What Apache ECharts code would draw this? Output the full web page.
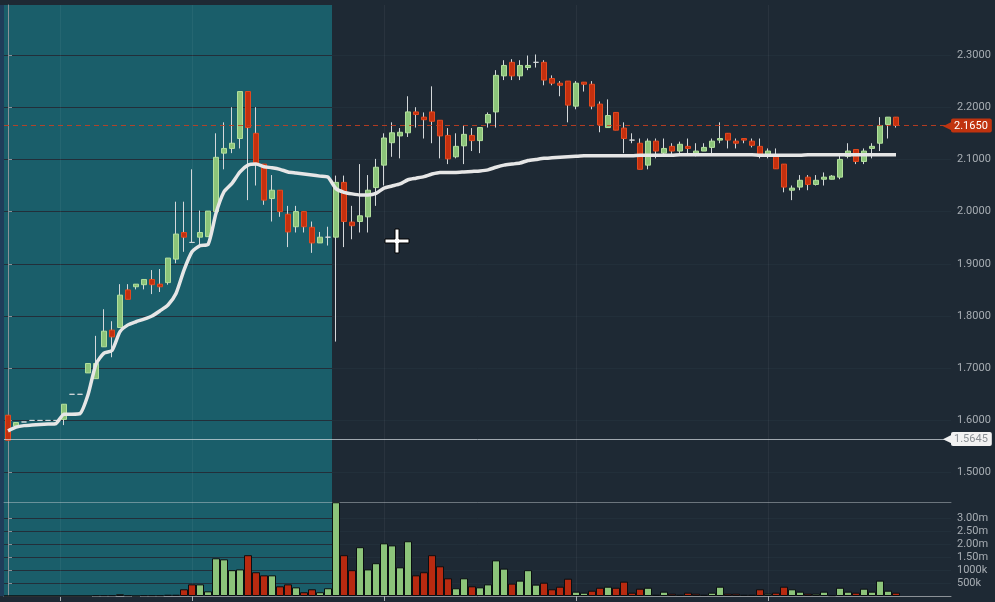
<!DOCTYPE html>
<html>
<head>
<meta charset="utf-8">
<script src="https://cdn.jsdelivr.net/npm/echarts@6/dist/echarts.min.js"></script>
<style>
  html, body { margin: 0; padding: 0; background: #1e2934; }
  #chart { width: 995px; height: 602px; }
</style>
</head>
<body>
<div id="chart"></div>
<script>
// candles (index = bar number)
var openP = [1.610,1.589,1.597,1.600,1.600,1.600,1.600,1.602,1.650,1.650,
  1.691,1.680,1.741,1.773,1.778,1.850,1.856,1.860,1.870,1.861,
  1.864,1.909,1.960,1.941,1.951,1.952,2.000,2.112,2.121,2.140,
  2.230,2.150,2.091,2.025,2.041,1.995,1.971,2.000,1.970,1.940,
  1.951,1.951,2.056,1.980,1.981,1.990,2.046,2.089,2.132,2.145,
  2.151,2.191,2.181,2.191,2.175,2.146,2.105,2.126,2.146,2.136,
  2.170,2.191,2.260,2.286,2.260,2.276,2.286,2.286,2.255,2.246,
  2.250,2.202,2.248,2.244,2.206,2.161,2.190,2.160,2.137,2.131,
  2.089,2.135,2.112,2.125,2.116,2.125,2.112,2.116,2.123,2.137,
  2.150,2.135,2.140,2.135,2.125,2.106,2.108,2.091,2.041,2.047,
  2.066,2.052,2.062,2.062,2.066,2.106,2.119,2.096,2.121,2.131,
  2.167,2.181];
var closeP = [1.562,1.596,1.597,1.600,1.600,1.600,1.600,1.631,1.650,1.650,
  1.709,1.709,1.771,1.760,1.840,1.832,1.861,1.870,1.860,1.856,
  1.911,1.957,1.951,1.941,1.960,2.001,2.104,2.121,2.131,2.230,
  2.161,2.093,2.022,2.041,2.000,1.961,2.000,1.971,1.940,1.951,
  1.951,2.056,1.981,1.973,1.992,2.041,2.085,2.141,2.151,2.152,
  2.191,2.186,2.176,2.173,2.145,2.101,2.125,2.148,2.136,2.161,
  2.186,2.261,2.280,2.260,2.280,2.280,2.286,2.252,2.246,2.242,
  2.204,2.246,2.244,2.202,2.166,2.184,2.156,2.140,2.137,2.081,
  2.135,2.116,2.121,2.116,2.129,2.121,2.116,2.123,2.135,2.140,
  2.137,2.131,2.137,2.127,2.106,2.116,2.082,2.047,2.045,2.060,
  2.052,2.060,2.066,2.068,2.100,2.116,2.096,2.116,2.125,2.165,
  2.181,2.165];
var lowP = [1.562,1.589,1.597,1.600,1.600,1.600,1.600,1.591,1.650,1.650,
  1.691,1.680,1.741,1.721,1.778,1.832,1.851,1.851,1.842,1.846,
  1.860,1.901,1.923,1.941,1.935,1.952,2.000,2.081,2.112,2.121,
  2.022,2.050,2.013,1.981,1.990,1.932,1.960,1.960,1.921,1.940,
  1.935,1.751,1.932,1.947,1.960,1.960,2.011,2.050,2.105,2.102,
  2.143,2.161,2.140,2.131,2.102,2.091,2.102,2.091,2.116,2.112,
  2.161,2.161,2.252,2.252,2.252,2.271,2.276,2.242,2.242,2.221,
  2.171,2.196,2.230,2.196,2.152,2.161,2.156,2.112,2.131,2.081,
  2.081,2.102,2.108,2.106,2.112,2.112,2.106,2.116,2.112,2.131,
  2.121,2.121,2.131,2.123,2.102,2.102,2.082,2.037,2.022,2.041,
  2.041,2.050,2.050,2.062,2.062,2.102,2.091,2.091,2.102,2.116,
  2.140,2.161];
var highP = [1.610,1.596,1.597,1.600,1.600,1.600,1.600,1.631,1.650,1.650,
  1.709,1.762,1.813,1.790,1.861,1.861,1.861,1.870,1.888,1.890,
  1.911,2.019,2.019,2.081,2.002,2.001,2.150,2.171,2.200,2.230,
  2.230,2.200,2.091,2.070,2.041,2.011,2.011,2.000,1.981,1.961,
  1.971,2.069,2.069,2.011,2.091,2.070,2.101,2.150,2.171,2.160,
  2.221,2.200,2.190,2.240,2.175,2.160,2.150,2.165,2.160,2.161,
  2.190,2.271,2.290,2.292,2.290,2.299,2.301,2.290,2.261,2.250,
  2.250,2.250,2.248,2.250,2.211,2.215,2.190,2.171,2.150,2.140,
  2.140,2.140,2.140,2.131,2.134,2.140,2.131,2.131,2.140,2.171,
  2.150,2.140,2.140,2.140,2.140,2.121,2.121,2.091,2.050,2.070,
  2.070,2.070,2.075,2.070,2.108,2.131,2.119,2.121,2.131,2.181,
  2.181,2.181];

// white average line
var avgLine = [1.580,1.587,1.590,1.591,1.592,1.593,1.594,1.612,1.612,1.613,
  1.649,1.708,1.729,1.734,1.770,1.783,1.789,1.794,1.800,1.810,
  1.821,1.843,1.888,1.923,1.935,1.937,1.997,2.038,2.054,2.076,
  2.089,2.091,2.086,2.084,2.081,2.076,2.074,2.072,2.070,2.068,
  2.066,2.044,2.037,2.034,2.032,2.032,2.035,2.045,2.049,2.053,
  2.061,2.064,2.067,2.072,2.075,2.075,2.075,2.076,2.077,2.078,
  2.080,2.085,2.089,2.091,2.093,2.098,2.100,2.102,2.103,2.104,
  2.105,2.106,2.107,2.107,2.107,2.107,2.107,2.107,2.107,2.108,
  2.108,2.108,2.108,2.108,2.109,2.109,2.109,2.109,2.109,2.109,
  2.109,2.109,2.109,2.109,2.108,2.108,2.108,2.108,2.108,2.108,
  2.109,2.109,2.109,2.109,2.109,2.109,2.109,2.109,2.109,2.109,
  2.109,2.109];

// volume in thousands, and bar colour per bar (u = green, d = red)
var volumeK = [0,0,0,0,0,0,0,0,0,0,
  0,25,25,25,70,25,0,25,25,25,
  50,50,260,450,450,180,1460,1420,1000,1030,
  1580,920,800,800,375,450,335,145,260,145,
  300,3630,1580,1000,1890,1030,1270,2040,1960,1110,
  2120,800,920,1580,1150,685,300,685,375,335,
  450,1380,1060,480,595,1000,440,515,260,360,
  670,167,128,205,320,360,320,555,128,283,
  320,50,167,90,50,128,90,50,128,360,
  90,90,50,50,260,90,128,360,260,167,
  90,90,167,30,320,167,128,283,167,595,
  205,128];
var volDir = [
  'uuuuuuuuuu', 'uuuuuuuuuu', 'uudduuuuuu', 'dddudduddu',
  'uudduuuuuu', 'uddddduudu', 'uuuduuuddd', 'duuddudddd',
  'udududduuu', 'dduddudduu', 'duuuuuduuuud'
].join('');

var priceTicks = [1.5, 1.6, 1.7, 1.8, 1.9, 2.0, 2.1, 2.2, 2.3];
var volTicks = [500000, 1000000, 1500000, 2000000, 2500000, 3000000];
var dayBreaks = [6.5, 23, 47, 71, 95];
var lastPrice = 2.165;
var refPrice = 1.5645;
var shadedUntil = 40;   // bars 0..40 sit in the teal block
var slots = 118;        // bar slots across the plot, incl. empty right margin

var green = '#8cc47a', greenEdge = '#b2df9c';
var red = '#c4300f', redEdge = '#e4491e';
var teal = '#1a5e6a';
var wickColor = '#d4d8da';

var cats = [];
for (var i = 0; i < slots; i++) cats.push(i);

var wickData = [], bodyData = [], avgData = [], volData = [];
for (var i = 0; i < openP.length; i++) {
  var o = openP[i], c = closeP[i];
  wickData.push([o, c, lowP[i], highP[i]]);
  var b = { value: [o, c, Math.min(o, c), Math.max(o, c)] };
  if (o === c) b.itemStyle = { color: wickColor, color0: wickColor, borderColor: wickColor, borderColor0: wickColor };
  bodyData.push(b);
  avgData.push([i, avgLine[i]]);
  var up = volDir.charAt(i) !== 'd';
  volData.push({ value: [i, volumeK[i] * 1000], itemStyle: { color: up ? green : '#b82a10' } });
}

var chart = echarts.init(document.getElementById('chart'), null, { renderer: 'canvas' });

var tagLabel = function (bg, fg) {
  return {
    show: true,
    position: 'end',
    distance: -8,
    formatter: function (p) { return '{a|\u25C0}{b|' + p.value.toFixed(4) + '}'; },
    rich: {
      a: { color: bg, fontSize: 11, padding: [0, 0, 0, 0] },
      b: { backgroundColor: bg, color: fg, fontSize: 11, fontFamily: 'Roboto', padding: [2, 4, 1, 3], borderRadius: 2 }
    }
  };
};

var option = {
  backgroundColor: '#1e2934',
  animation: false,
  grid: [
    { left: 4, right: 44, top: 5, bottom: 100 },
    { left: 4, right: 47, top: 5, bottom: 100 },
    { left: 4, right: 44, top: 502, bottom: 6 }
  ],
  xAxis: [
    {
      type: 'value', gridIndex: 0, min: -0.5, max: 117.875,
      axisLine: { show: true, onZero: false, lineStyle: { color: 'rgba(205,210,215,0.45)', width: 1 } },
      axisTick: { show: false, customValues: dayBreaks },
      axisLabel: { show: false },
      splitLine: { show: true, lineStyle: { color: 'rgba(255,255,255,0.05)' } }
    },
    {
      type: 'category', gridIndex: 1, data: cats, boundaryGap: true,
      axisLine: { show: false }, axisTick: { show: false }, axisLabel: { show: false }, splitLine: { show: false }
    },
    {
      type: 'value', gridIndex: 2, min: -0.5, max: 117.875,
      axisLine: { show: true, onZero: false, lineStyle: { color: '#8b9197' } },
      axisTick: { show: true, customValues: dayBreaks, length: 5, lineStyle: { color: '#a9aeb3' } },
      axisLabel: { show: false },
      splitLine: { show: true, lineStyle: { color: 'rgba(255,255,255,0.05)' } }
    }
  ],
  yAxis: [
    {
      type: 'value', gridIndex: 0, position: 'right', min: 1.4437, max: 2.3958,
      axisLine: { show: true, lineStyle: { color: '#8b9197' } },
      axisTick: { show: true, length: 4, customValues: priceTicks, lineStyle: { color: '#8b9197' } },
      axisLabel: {
        customValues: priceTicks, margin: 6, color: '#a7adb3', fontSize: 11, fontFamily: 'Roboto',
        formatter: function (v) { return v.toFixed(4); }
      },
      splitLine: { show: true, lineStyle: { color: '#222f3a', width: 1 } }
    },
    {
      type: 'value', gridIndex: 1, min: 1.4437, max: 2.3958, show: false
    },
    {
      type: 'value', gridIndex: 2, position: 'right', min: 0, max: 3640000,
      axisLine: { show: true, lineStyle: { color: '#8b9197' } },
      axisTick: { show: true, length: 4, customValues: volTicks, lineStyle: { color: '#8b9197' } },
      axisLabel: {
        customValues: volTicks, margin: 6, color: '#a7adb3', fontSize: 11, fontFamily: 'Roboto',
        formatter: function (v) { return v >= 1500000 ? (v / 1000000).toFixed(2) + 'm' : (v / 1000) + 'k'; }
      },
      splitLine: { show: true, lineStyle: { color: '#222f3a', width: 1 } }
    }
  ],
  series: [
    {
      name: 'avg', type: 'line', xAxisIndex: 0, yAxisIndex: 0, z: 4,
      data: avgData, symbol: 'none', smooth: 0.2,
      lineStyle: { color: '#e6e6e6', width: 3.5 },
      markArea: {
        z: -1, silent: true,
        itemStyle: { color: teal },
        data: [[{ xAxis: -0.5 }, { xAxis: shadedUntil + 0.5 }]]
      },
      markLine: {
        silent: true, symbol: 'none', precision: 4,
        data: [
          { yAxis: lastPrice, lineStyle: { color: 'rgba(205,62,30,0.85)', type: [5, 4], width: 1 }, label: tagLabel('#c0330f', '#ffffff') },
          { yAxis: refPrice, lineStyle: { color: 'rgba(215,222,228,0.7)', type: 'solid', width: 1 }, label: tagLabel('#f2f2f2', '#8a8f94') }
        ]
      }
    },
    {
      name: 'wick', type: 'candlestick', xAxisIndex: 1, yAxisIndex: 1, z: 2,
      barWidth: 1, data: wickData,
      itemStyle: { color: wickColor, color0: wickColor, borderColor: wickColor, borderColor0: wickColor, borderWidth: 1 }
    },
    {
      name: 'body', type: 'candlestick', xAxisIndex: 1, yAxisIndex: 1, z: 3,
      barWidth: 5, data: bodyData,
      itemStyle: { color: green, color0: red, borderColor: greenEdge, borderColor0: redEdge, borderWidth: 1 }
    },
    {
      name: 'volume', type: 'bar', xAxisIndex: 2, yAxisIndex: 2, z: 2,
      barWidth: 8, data: volData,
      itemStyle: { borderColor: '#0a0e11', borderWidth: 1 },
      markArea: {
        z: -1, silent: true,
        itemStyle: { color: teal },
        data: [[{ xAxis: -0.5 }, { xAxis: shadedUntil + 0.5 }]]
      }
    }
  ],
  graphic: [
    { type: 'rect', left: 0, top: 5, shape: { width: 4, height: 591 }, style: { fill: '#1f3d5a' }, silent: true },
    {
      type: 'polygon', silent: true, z: 100,
      shape: { points: [[395, 229], [399, 229], [399, 239], [409, 239], [409, 243], [399, 243], [399, 253], [395, 253], [395, 243], [385, 243], [385, 239], [395, 239]] },
      style: { fill: '#ffffff', stroke: '#000000', lineWidth: 1 }
    }
  ]
};

chart.setOption(option);
window.addEventListener('resize', chart.resize);
</script>
</body>
</html>
